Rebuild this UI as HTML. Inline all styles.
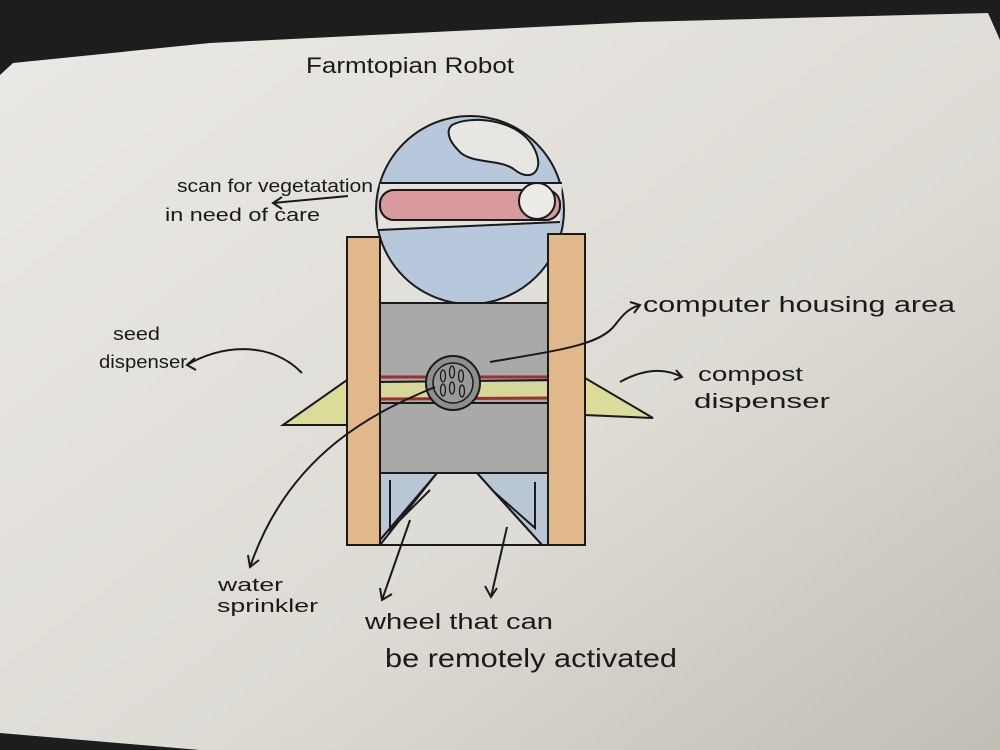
<!DOCTYPE html>
<html><head><meta charset="utf-8"><style>
html,body{margin:0;padding:0;width:1000px;height:750px;overflow:hidden;background:#1d1d1d}
svg{display:block}
text{font-family:"Liberation Sans",sans-serif;fill:#1a1a1a}
</style></head><body>
<svg width="1000" height="750" viewBox="0 0 1000 750">
<defs>
<linearGradient id="pg" x1="0" y1="0" x2="1" y2="1">
<stop offset="0" stop-color="#ebe9e5"/><stop offset="0.6" stop-color="#dedbd5"/><stop offset="1" stop-color="#c2bdb4"/>
</linearGradient>
</defs>
<rect width="1000" height="750" fill="#1d1d1d"/>
<polygon points="13,63 210,43 638,22 988,13 1000,40 1000,750 200,750 0,733 0,75" fill="url(#pg)"/>
<text x="306" y="73" font-size="22" textLength="208" lengthAdjust="spacingAndGlyphs">Farmtopian Robot</text>

<g stroke="#1a1a1a" stroke-width="2" fill="none">
<circle cx="470" cy="210" r="94" fill="#b8c8dc"/>
<path d="M380,183 L562,183 L560,222 L378,230 Z" fill="#e4e2de" stroke="none"/>
<line x1="380" y1="183" x2="562" y2="183"/>
<line x1="378" y1="230" x2="560" y2="222"/>
<path d="M452,125 C470,115 520,118 535,150 C545,172 530,182 515,170 C500,158 470,165 458,150 C448,140 446,130 452,125 Z" fill="#e8e6e2"/>
<rect x="380" y="190" width="180" height="30" rx="14" fill="#d99a9f" stroke="#a33"/>
<rect x="380" y="190" width="180" height="30" rx="14"/>
<circle cx="537" cy="201" r="18" fill="#ecebe8"/>
<rect x="380" y="473" width="168" height="72" fill="#b9c6d3"/>
<polygon points="437,473 477,473 542,545 380,545" fill="#dedcd7"/>
<path d="M437,473 L380,540 M477,473 L542,545 M390,480 L390,530 L430,490 M535,482 L535,528 L492,490"/>
<rect x="380" y="303" width="168" height="170" fill="#a9a9a9"/>
<rect x="380" y="382" width="168" height="16" fill="#d8d79a" stroke="none"/>
<line x1="380" y1="377" x2="548" y2="377" stroke="#9a3030" stroke-width="3"/>
<line x1="380" y1="382" x2="548" y2="380"/>
<line x1="380" y1="399" x2="548" y2="398" stroke="#9a3030" stroke-width="3"/>
<line x1="380" y1="403" x2="548" y2="403"/>
<circle cx="453" cy="383" r="27" fill="#8e8e8e"/>
<circle cx="453" cy="383" r="20" fill="#9a9a9a" stroke-width="1.5"/>
<g stroke-width="1.3">
<ellipse cx="443" cy="376" rx="2.5" ry="6"/><ellipse cx="452" cy="372" rx="2.5" ry="6"/><ellipse cx="461" cy="376" rx="2.5" ry="6"/>
<ellipse cx="443" cy="390" rx="2.5" ry="6"/><ellipse cx="452" cy="388" rx="2.5" ry="6"/><ellipse cx="462" cy="391" rx="2.5" ry="6"/>
</g>
<polygon points="283,425 347,380 347,425" fill="#dcdc9a"/>
<polygon points="585,378 653,418 585,415" fill="#dcdc9a"/>
<rect x="347" y="237" width="33" height="308" fill="#e0b88a"/>
<rect x="548" y="234" width="37" height="311" fill="#e0b88a"/>
<path d="M348,196 L273,203 M282,197 L273,203 L282,209"/>
<path d="M302,373 C270,340 220,345 187,365 M195,358 L187,365 L196,370"/>
<path d="M490,362 C560,350 600,345 615,325 C625,312 630,308 640,305 M630,302 L640,305 L634,313"/>
<path d="M620,382 C645,368 665,368 682,377 M676,370 L682,377 L674,380"/>
<path d="M435,387 C380,410 290,450 250,567 M248,555 L250,567 L259,560"/>
<path d="M410,520 L382,600 M380,588 L382,600 L392,594"/>
<path d="M507,527 L491,597 M485,586 L491,597 L497,588"/>
</g>
<g font-size="18" lengthAdjust="spacingAndGlyphs">
<text x="177" y="192" textLength="196" lengthAdjust="spacingAndGlyphs">scan for vegetatation</text>
<text x="165" y="221" textLength="155" lengthAdjust="spacingAndGlyphs">in need of care</text>
<text x="113" y="340" textLength="47" lengthAdjust="spacingAndGlyphs">seed</text>
<text x="99" y="368" textLength="88" lengthAdjust="spacingAndGlyphs">dispenser</text>
<text x="698" y="381" font-size="20" textLength="105" lengthAdjust="spacingAndGlyphs">compost</text>
<text x="694" y="408" font-size="20" textLength="136" lengthAdjust="spacingAndGlyphs">dispenser</text>
<text x="218" y="591" textLength="65" lengthAdjust="spacingAndGlyphs">water</text>
<text x="217" y="612" textLength="101" lengthAdjust="spacingAndGlyphs">sprinkler</text>
</g>
<text x="643" y="312" font-size="22" textLength="312" lengthAdjust="spacingAndGlyphs">computer housing area</text>
<text x="365" y="629" font-size="22" textLength="188" lengthAdjust="spacingAndGlyphs">wheel that can</text>
<text x="385" y="667" font-size="26" textLength="292" lengthAdjust="spacingAndGlyphs">be remotely activated</text>
</svg>
</body></html>
